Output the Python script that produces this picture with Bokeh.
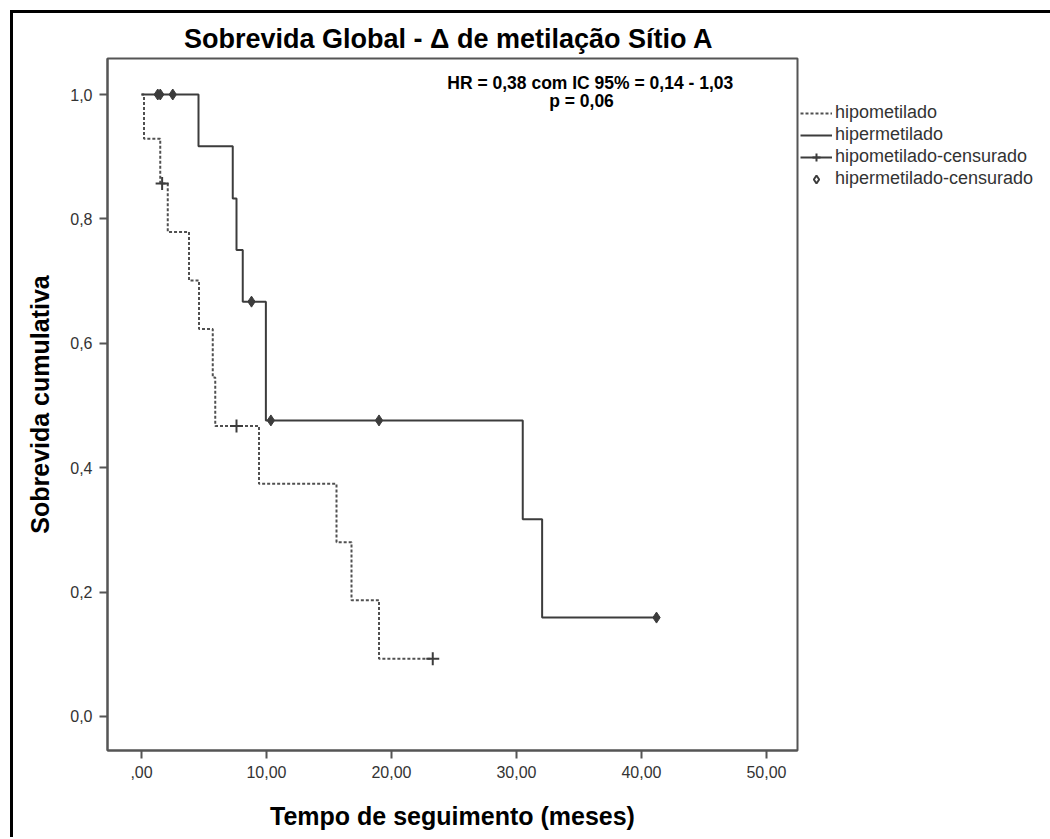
from bokeh.plotting import figure
from bokeh.models import Range1d, FixedTicker, Label, Legend, LegendItem, ColumnDataSource
from bokeh.embed import file_html
from bokeh.resources import INLINE

# ---- data ----
hipo_t = [0.0, 0.2, 1.5, 2.1, 3.8, 4.6, 5.7, 5.9, 9.4, 15.6, 16.8, 19.0, 23.3]
hipo_s = [1.0, 0.929, 0.857, 0.779, 0.701, 0.623, 0.545, 0.467, 0.374, 0.280, 0.187, 0.093, 0.093]
hipo_cens_t = [1.65, 7.6, 23.3]
hipo_cens_s = [0.857, 0.467, 0.093]

hiper_t = [0.0, 4.56, 7.3, 7.6, 8.1, 9.95, 30.5, 32.05, 41.2]
hiper_s = [1.0, 0.917, 0.833, 0.750, 0.667, 0.476, 0.317, 0.159, 0.159]
hiper_cens_t = [1.3, 1.5, 2.5, 8.8, 10.35, 19.0, 41.2]
hiper_cens_s = [1.0, 1.0, 1.0, 0.667, 0.476, 0.476, 0.159]

x_ticks = [0, 10, 20, 30, 40, 50]
x_tick_labels = [",00", "10,00", "20,00", "30,00", "40,00", "50,00"]
y_ticks = [0.0, 0.2, 0.4, 0.6, 0.8, 1.0]
y_tick_labels = ["0,0", "0,2", "0,4", "0,6", "0,8", "1,0"]

title_text = "Sobrevida Global -  \u0394 de metila\u00e7\u00e3o S\u00edtio A"
hr_text = "HR = 0,38 com IC 95% = 0,14 - 1,03"
p_text = "p = 0,06"
legend_labels = ["hipometilado", "hipermetilado", "hipometilado-censurado", "hipermetilado-censurado"]

FONT = "Liberation Sans"
LINE = "#3c3c3c"
NAN = float("nan")

p = figure(frame_width=690, frame_height=692,
           min_border_left=94, min_border_right=250, min_border_top=45, min_border_bottom=87,
           x_range=Range1d(-2.72, 52.48), y_range=Range1d(-0.0547, 1.0579),
           output_backend="svg", toolbar_location=None, title=title_text)
p.styles = {"border-top": "3px solid black", "border-left": "3px solid black",
            "margin-left": "10px", "margin-top": "10px"}

p.grid.visible = False
p.background_fill_color = "white"
p.border_fill_color = "white"
p.outline_line_color = "#555555"
p.outline_line_width = 2

p.title.align = "center"
p.title.text_font = FONT
p.title.text_font_size = "27px"
p.title.text_font_style = "bold"
p.title.text_color = "black"
p.title.standoff = 9

for ax in (p.xaxis[0], p.yaxis[0]):
    ax.axis_line_color = "#555555"
    ax.axis_line_width = 2
    ax.major_tick_line_color = "#555555"
    ax.major_tick_line_width = 2
    ax.major_tick_out = 8
    ax.major_tick_in = 0
    ax.minor_tick_line_color = None
    ax.major_label_text_font = FONT
    ax.major_label_text_font_size = "16px"
    ax.major_label_text_color = "#333333"
    ax.major_label_standoff = 7
    ax.axis_label_text_font = FONT
    ax.axis_label_text_font_style = "bold"
    ax.axis_label_text_color = "black"

p.xaxis.ticker = FixedTicker(ticks=x_ticks)
p.xaxis.major_label_overrides = {t: l for t, l in zip(x_ticks, x_tick_labels)}
p.yaxis.ticker = FixedTicker(ticks=y_ticks)
p.yaxis.major_label_overrides = {t: l for t, l in zip(y_ticks, y_tick_labels)}
p.xaxis.axis_label = "Tempo de seguimento (meses)"
p.xaxis.axis_label_text_font_size = "25px"
p.xaxis.axis_label_standoff = 21
p.yaxis.axis_label = "Sobrevida cumulativa"
p.yaxis.axis_label_text_font_size = "25px"
p.yaxis.axis_label_standoff = 13

r_hipo = p.step(hipo_t, hipo_s, mode="after", line_color="#505050", line_width=2, line_dash="3 2")
r_hiper = p.step(hiper_t, hiper_s, mode="after", line_color=LINE, line_width=2)
p.scatter(hipo_cens_t, hipo_cens_s, marker="cross", size=13, line_color=LINE, line_width=2)
p.scatter(hiper_cens_t, hiper_cens_s, marker="diamond", size=11, line_color=LINE,
          fill_color=LINE, line_width=1)

# legend-only renderers (a single NaN point draws nothing in the plot)
dummy = ColumnDataSource(data=dict(x=[NAN], y=[NAN]))
r_leg_line = p.line("x", "y", source=dummy, line_color=LINE, line_width=2)
r_leg_cross = p.scatter("x", "y", source=dummy, marker="cross", size=14, line_color=LINE, line_width=2)
r_leg_diam = p.scatter("x", "y", source=dummy, marker="diamond", size=13, line_color=LINE,
                       fill_color=None, line_width=2)

legend = Legend(items=[
    LegendItem(label=legend_labels[0], renderers=[r_hipo]),
    LegendItem(label=legend_labels[1], renderers=[r_hiper]),
    LegendItem(label=legend_labels[2], renderers=[r_leg_line, r_leg_cross]),
    LegendItem(label=legend_labels[3], renderers=[r_leg_diam]),
], location=(3, 561))
legend.border_line_color = None
legend.background_fill_alpha = 0
legend.padding = 0
legend.margin = 0
legend.spacing = 1
legend.glyph_width = 32
legend.glyph_height = 20
legend.label_height = 20
legend.label_standoff = 3
legend.label_text_font = FONT
legend.label_text_font_size = "18px"
legend.label_text_color = "#333333"
p.add_layout(legend, "right")

p.add_layout(Label(x=35.9, y=1.019, text=hr_text, text_align="center", text_baseline="middle",
                   text_font=FONT, text_font_size="17.5px", text_font_style="bold", text_color="black"))
p.add_layout(Label(x=35.2, y=0.989, text=p_text, text_align="center", text_baseline="middle",
                   text_font=FONT, text_font_size="17.5px", text_font_style="bold", text_color="black"))

open("out.html", "w").write(file_html(p, INLINE))
